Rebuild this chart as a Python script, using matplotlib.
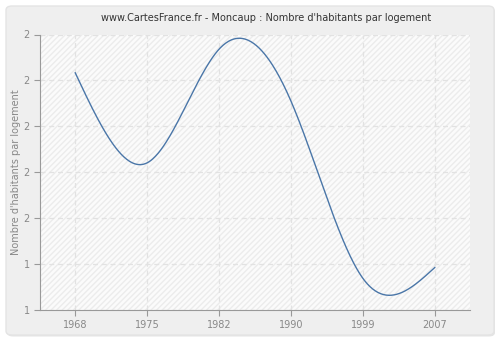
import numpy as np
import matplotlib
matplotlib.use("Agg")
import matplotlib.pyplot as plt
from matplotlib.patches import FancyBboxPatch, Rectangle

years = ["1968", "1975", "1982", "1990", "1999", "2007"]
values = [2.233, 1.841, 2.336, 2.110, 1.338, 1.385]
yticks = [1.2, 1.4, 1.6, 1.8, 2.0, 2.2, 2.4]
title = "www.CartesFrance.fr - Moncaup : Nombre d'habitants par logement"
ylabel = "Nombre d'habitants par logement"


def natural_spline(x, y, xs):
    x = np.asarray(x, float); y = np.asarray(y, float)
    n = len(x)
    h = np.diff(x)
    A = np.zeros((n, n)); b = np.zeros(n)
    A[0, 0] = 1; A[-1, -1] = 1
    for i in range(1, n - 1):
        A[i, i - 1] = h[i - 1]
        A[i, i] = 2 * (h[i - 1] + h[i])
        A[i, i + 1] = h[i]
        b[i] = 3 * ((y[i + 1] - y[i]) / h[i] - (y[i] - y[i - 1]) / h[i - 1])
    c = np.linalg.solve(A, b)
    out = np.empty_like(xs)
    for k, xv in enumerate(xs):
        i = min(max(np.searchsorted(x, xv) - 1, 0), n - 2)
        dx = xv - x[i]
        bi = (y[i + 1] - y[i]) / h[i] - h[i] * (2 * c[i] + c[i + 1]) / 3
        di = (c[i + 1] - c[i]) / (3 * h[i])
        out[k] = y[i] + bi * dx + c[i] * dx ** 2 + di * dx ** 3
    return out


fig = plt.figure(figsize=(5, 3.4), dpi=100)
fig.patch.set_facecolor("white")
shadow = FancyBboxPatch((7 / 500, 3.5 / 340), 488 / 500, 329 / 340,
                        boxstyle="round,pad=0,rounding_size=0.012",
                        transform=fig.transFigure, facecolor="#e4e4e4",
                        edgecolor="none", zorder=-11)
fig.patches.append(shadow)
frame = FancyBboxPatch((6 / 500, 5 / 340), 488 / 500, 329 / 340,
                       boxstyle="round,pad=0,rounding_size=0.012",
                       transform=fig.transFigure, facecolor="#efefef",
                       edgecolor="#e4e4e4", linewidth=1.0, zorder=-10)
fig.patches.append(frame)

ax = fig.add_axes([40 / 500, 1 - 310 / 340, 430 / 500, 275.5 / 340])
ax.set_zorder(1)
ax.set_facecolor("#fbfbfb")
ax.add_patch(Rectangle((0, 0), 1, 1, transform=ax.transAxes, facecolor="none",
                       edgecolor="#ececec", hatch="//////", linewidth=0, zorder=0))

xpos = np.arange(len(years))
xs = np.linspace(0, len(years) - 1, 400)
ax.plot(xs, natural_spline(xpos, values, xs), color="#4a76a8", linewidth=1.0, zorder=3)

ax.set_xlim(-0.49, len(years) - 1 + 0.49)
ax.set_ylim(yticks[0], yticks[-1])
ax.set_xticks(xpos)
ax.set_xticklabels(years)
ax.set_yticks(yticks)
ax.set_yticklabels(["%.0f" % v for v in yticks])
ax.grid(True, color="#e2e2e2", linestyle=(0, (4, 3)), linewidth=0.9)
ax.set_axisbelow(True)
for s in ["top", "right"]:
    ax.spines[s].set_visible(False)
for s in ["left", "bottom"]:
    ax.spines[s].set_color("#999999")
ax.tick_params(colors="#999999", labelcolor="#888888", labelsize=7, length=4, width=0.8)
ax.set_ylabel(ylabel, color="#888888", fontsize=7)
ax.yaxis.set_label_coords(-0.045, 0.5)
fig.text(266 / 500, 1 - 18 / 340, title, ha="center", va="center", fontsize=7.0, color="#333333")

fig.savefig("out.png", dpi=100, facecolor=fig.get_facecolor())
